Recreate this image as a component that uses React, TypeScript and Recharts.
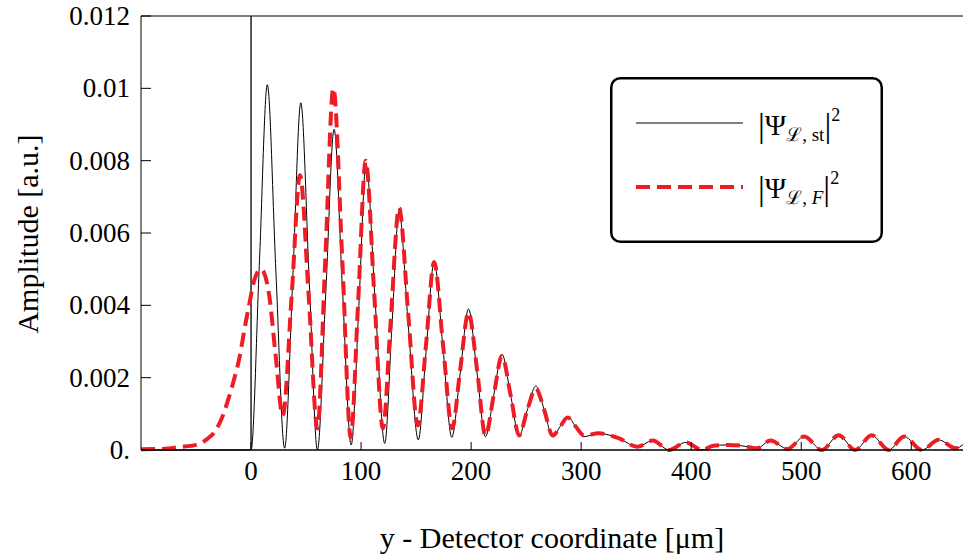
import React from 'react';
import { LineChart, Line, XAxis, YAxis, ReferenceLine, Legend, Label } from 'recharts';

// detector coordinate [µm] and |Ψ_L,st|² amplitude
const stX = [-100, -50, 0, 7.5, 14.8, 22.5, 30.5, 38, 45.2, 53, 60.3, 68, 75.5, 83, 91, 98, 104.5, 113, 121.5, 128, 134.5, 143, 152, 159, 166.4, 174.5, 182.4, 190, 197.6, 205.5, 213, 220.5, 228, 236, 243.6, 251, 258.8, 266.5, 274, 281, 287.6, 295, 302.7, 316, 334.5, 351, 365, 380, 395, 410, 420, 432, 445, 460, 472, 487.6, 502.7, 518.8, 534, 549, 564, 579.4, 593.6, 609.7, 624.8, 640.6, 647];
const stY = [0, 0, 0, 0.0051, 0.0101, 0.005, 0.00005, 0.0048, 0.0096, 0.0046, 0, 0.0044, 0.00887, 0.0045, 0.00014, 0.004, 0.0079, 0.004, 0.00018, 0.0034, 0.0066, 0.0034, 0.00028, 0.0027, 0.0052, 0.0028, 0.00035, 0.0021, 0.0039, 0.0021, 0.00037, 0.0015, 0.00265, 0.0015, 0.00039, 0.0011, 0.00177, 0.0011, 0.00037, 0.00065, 0.00092, 0.00065, 0.00037, 0.00046, 0.00032, 0.00009, 0.00026, 0, 0.00021, 0, 0.00012, 0.00014, 0.00012, 0.00005, 0.00026, 0.00003, 0.00037, 0, 0.00041, 0, 0.00041, 0, 0.00037, 0, 0.00028, 0.00005, 0.00015];

// |Ψ_L,F|² amplitude
const fX = [-100, -80, -65, -50, -40, -32, -25, -20, -15, -10.9, -5, -1.8, 3, 9, 13, 16.4, 22.4, 28.8, 37, 44.5, 52.5, 60.3, 67.5, 74.8, 83, 90.6, 97.5, 104.2, 112, 119.8, 127, 134.5, 143, 151.5, 159, 166.4, 174.5, 182.8, 190, 197.6, 205.5, 213, 220.5, 228, 236, 243.6, 251, 258.8, 266.5, 274, 281, 287.6, 295, 302.7, 316, 334.5, 351, 365, 380, 395, 410, 420, 432, 445, 460, 472, 487.6, 502.7, 518.8, 534, 549, 564, 579.4, 593.6, 609.7, 624.8, 640.6, 647];
const fY = [0.00002, 0.00003, 0.00008, 0.00014, 0.0003, 0.00055, 0.001, 0.00147, 0.002, 0.0025, 0.0035, 0.004, 0.0047, 0.005, 0.0048, 0.0043, 0.0026, 0.00095, 0.0043, 0.0076, 0.0042, 0.0006, 0.0053, 0.01, 0.0052, 0.00035, 0.0042, 0.008, 0.0043, 0.0006, 0.0036, 0.0067, 0.0037, 0.00068, 0.0029, 0.0052, 0.0029, 0.0006, 0.0022, 0.0038, 0.0022, 0.0004, 0.0015, 0.0026, 0.0015, 0.0004, 0.0011, 0.0017, 0.0011, 0.0004, 0.00065, 0.0009, 0.00065, 0.0004, 0.00046, 0.00032, 0.00009, 0.00026, 0, 0.00021, 0, 0.00012, 0.00014, 0.00012, 0.00005, 0.00026, 0.00003, 0.00037, 0, 0.00041, 0, 0.00041, 0, 0.00037, 0, 0.00028, 0.00005, 0.00015];

const xTicks = [0, 100, 200, 300, 400, 500, 600];
const yTicks = [0, 0.002, 0.004, 0.006, 0.008, 0.01, 0.012];
const yTickLabels = ['0.', '0.002', '0.004', '0.006', '0.008', '0.01', '0.012'];

const stData = stX.map((x, i) => ({ x, y: stY[i] }));
const fData = fX.map((x, i) => ({ x, y: fY[i] }));

const FONT = '"Liberation Serif", "Times New Roman", serif';
const RED = '#ee1d25';

const YTick = (props: any) => {
  const { x, y, index } = props;
  const ax = x + 11;
  return (
    <g>
      <line x1={ax} y1={y} x2={ax + 10} y2={y} stroke="#000" strokeWidth={1} />
      <text x={x} y={y} textAnchor="end" dominantBaseline="central" fontFamily={FONT} fontSize={27} fill="#000">
        {yTickLabels[index]}
      </text>
    </g>
  );
};

const XTick = (props: any) => {
  const { x, y, payload } = props;
  const ay = y - 21;
  return (
    <g>
      <line x1={x} y1={ay} x2={x} y2={ay - 8} stroke="#000" strokeWidth={1} />
      <text x={x} y={y} textAnchor="middle" dominantBaseline="central" fontFamily={FONT} fontSize={27} fill="#000">
        {payload.value}
      </text>
    </g>
  );
};

const PsiLabel = ({ y, sub, italic }: { y: number; sub: string; italic?: boolean }) => (
  <text x={148} y={y} fontFamily={FONT} fontSize={29} fill="#000">
    <tspan fontSize={34} dy={2}>|</tspan>
    <tspan dy={-2}>Ψ</tspan>
    <tspan fontSize={19} dy={6}>ℒ, </tspan>
    <tspan fontSize={19} fontStyle={italic ? 'italic' : 'normal'}>{sub}</tspan>
    <tspan fontSize={34} dy={-4}>|</tspan>
    <tspan fontSize={18} dy={-16}>2</tspan>
  </text>
);

const LegendBox = () => (
  <svg width={273} height={166}>
    <rect x={1.25} y={1.25} width={270.5} height={163.5} rx={9} fill="#fff" stroke="#000" strokeWidth={2.5} />
    <line x1={26} y1={46} x2={133} y2={46} stroke="#000" strokeWidth={1} />
    <line x1={26} y1={110} x2={133} y2={110} stroke={RED} strokeWidth={4} strokeDasharray="14 7" />
    <PsiLabel y={58} sub="st" />
    <PsiLabel y={121} sub="F" italic />
  </svg>
);

export default function App() {
  return (
    <div style={{ position: 'absolute', left: 0, top: 0, width: 963, height: 557, background: '#fff' }}>
      <LineChart width={963} height={557} margin={{ top: 16, right: 0, bottom: 0, left: 0 }}>
        <XAxis
          type="number"
          dataKey="x"
          domain={[-100, 647]}
          allowDataOverflow
          ticks={xTicks}
          tick={<XTick />}
          tickLine={false}
          tickSize={0}
          tickMargin={21}
          height={107}
          axisLine={{ stroke: '#000', strokeWidth: 1.5 }}
        >
          <Label
            content={(p: any) => (
              <text x={p.viewBox.x + p.viewBox.width / 2} y={537} textAnchor="middle" dominantBaseline="central" fontFamily={FONT} fontSize={30} fill="#000">
                y - Detector coordinate [μm]
              </text>
            )}
          />
        </XAxis>
        <YAxis
          type="number"
          domain={[0, 0.012]}
          ticks={yTicks}
          tick={<YTick />}
          tickLine={false}
          tickSize={0}
          tickMargin={11}
          width={141}
          axisLine={{ stroke: '#000', strokeWidth: 1 }}
        >
          <Label
            content={() => (
              <text x={27} y={234} transform="rotate(-90 27 234)" textAnchor="middle" dominantBaseline="central" fontFamily={FONT} fontSize={30} fill="#000">
                Amplitude [a.u.]
              </text>
            )}
          />
        </YAxis>
        <ReferenceLine y={0.012} stroke="#000" strokeWidth={1} />
        <ReferenceLine x={0} stroke="#000" strokeWidth={1.3} />
        <Line data={stData} dataKey="y" type="monotone" stroke="#000" strokeWidth={1} dot={false} isAnimationActive={false} name="st" />
        <Line data={fData} dataKey="y" type="monotone" stroke={RED} strokeWidth={4} strokeDasharray="14 7" dot={false} isAnimationActive={false} name="F" />
        <Legend
          layout="vertical"
          align="center"
          verticalAlign="middle"
          content={() => <LegendBox />}
          wrapperStyle={{ position: 'absolute', left: 610, top: 77, width: 273, height: 166 }}
        />
      </LineChart>
    </div>
  );
}
